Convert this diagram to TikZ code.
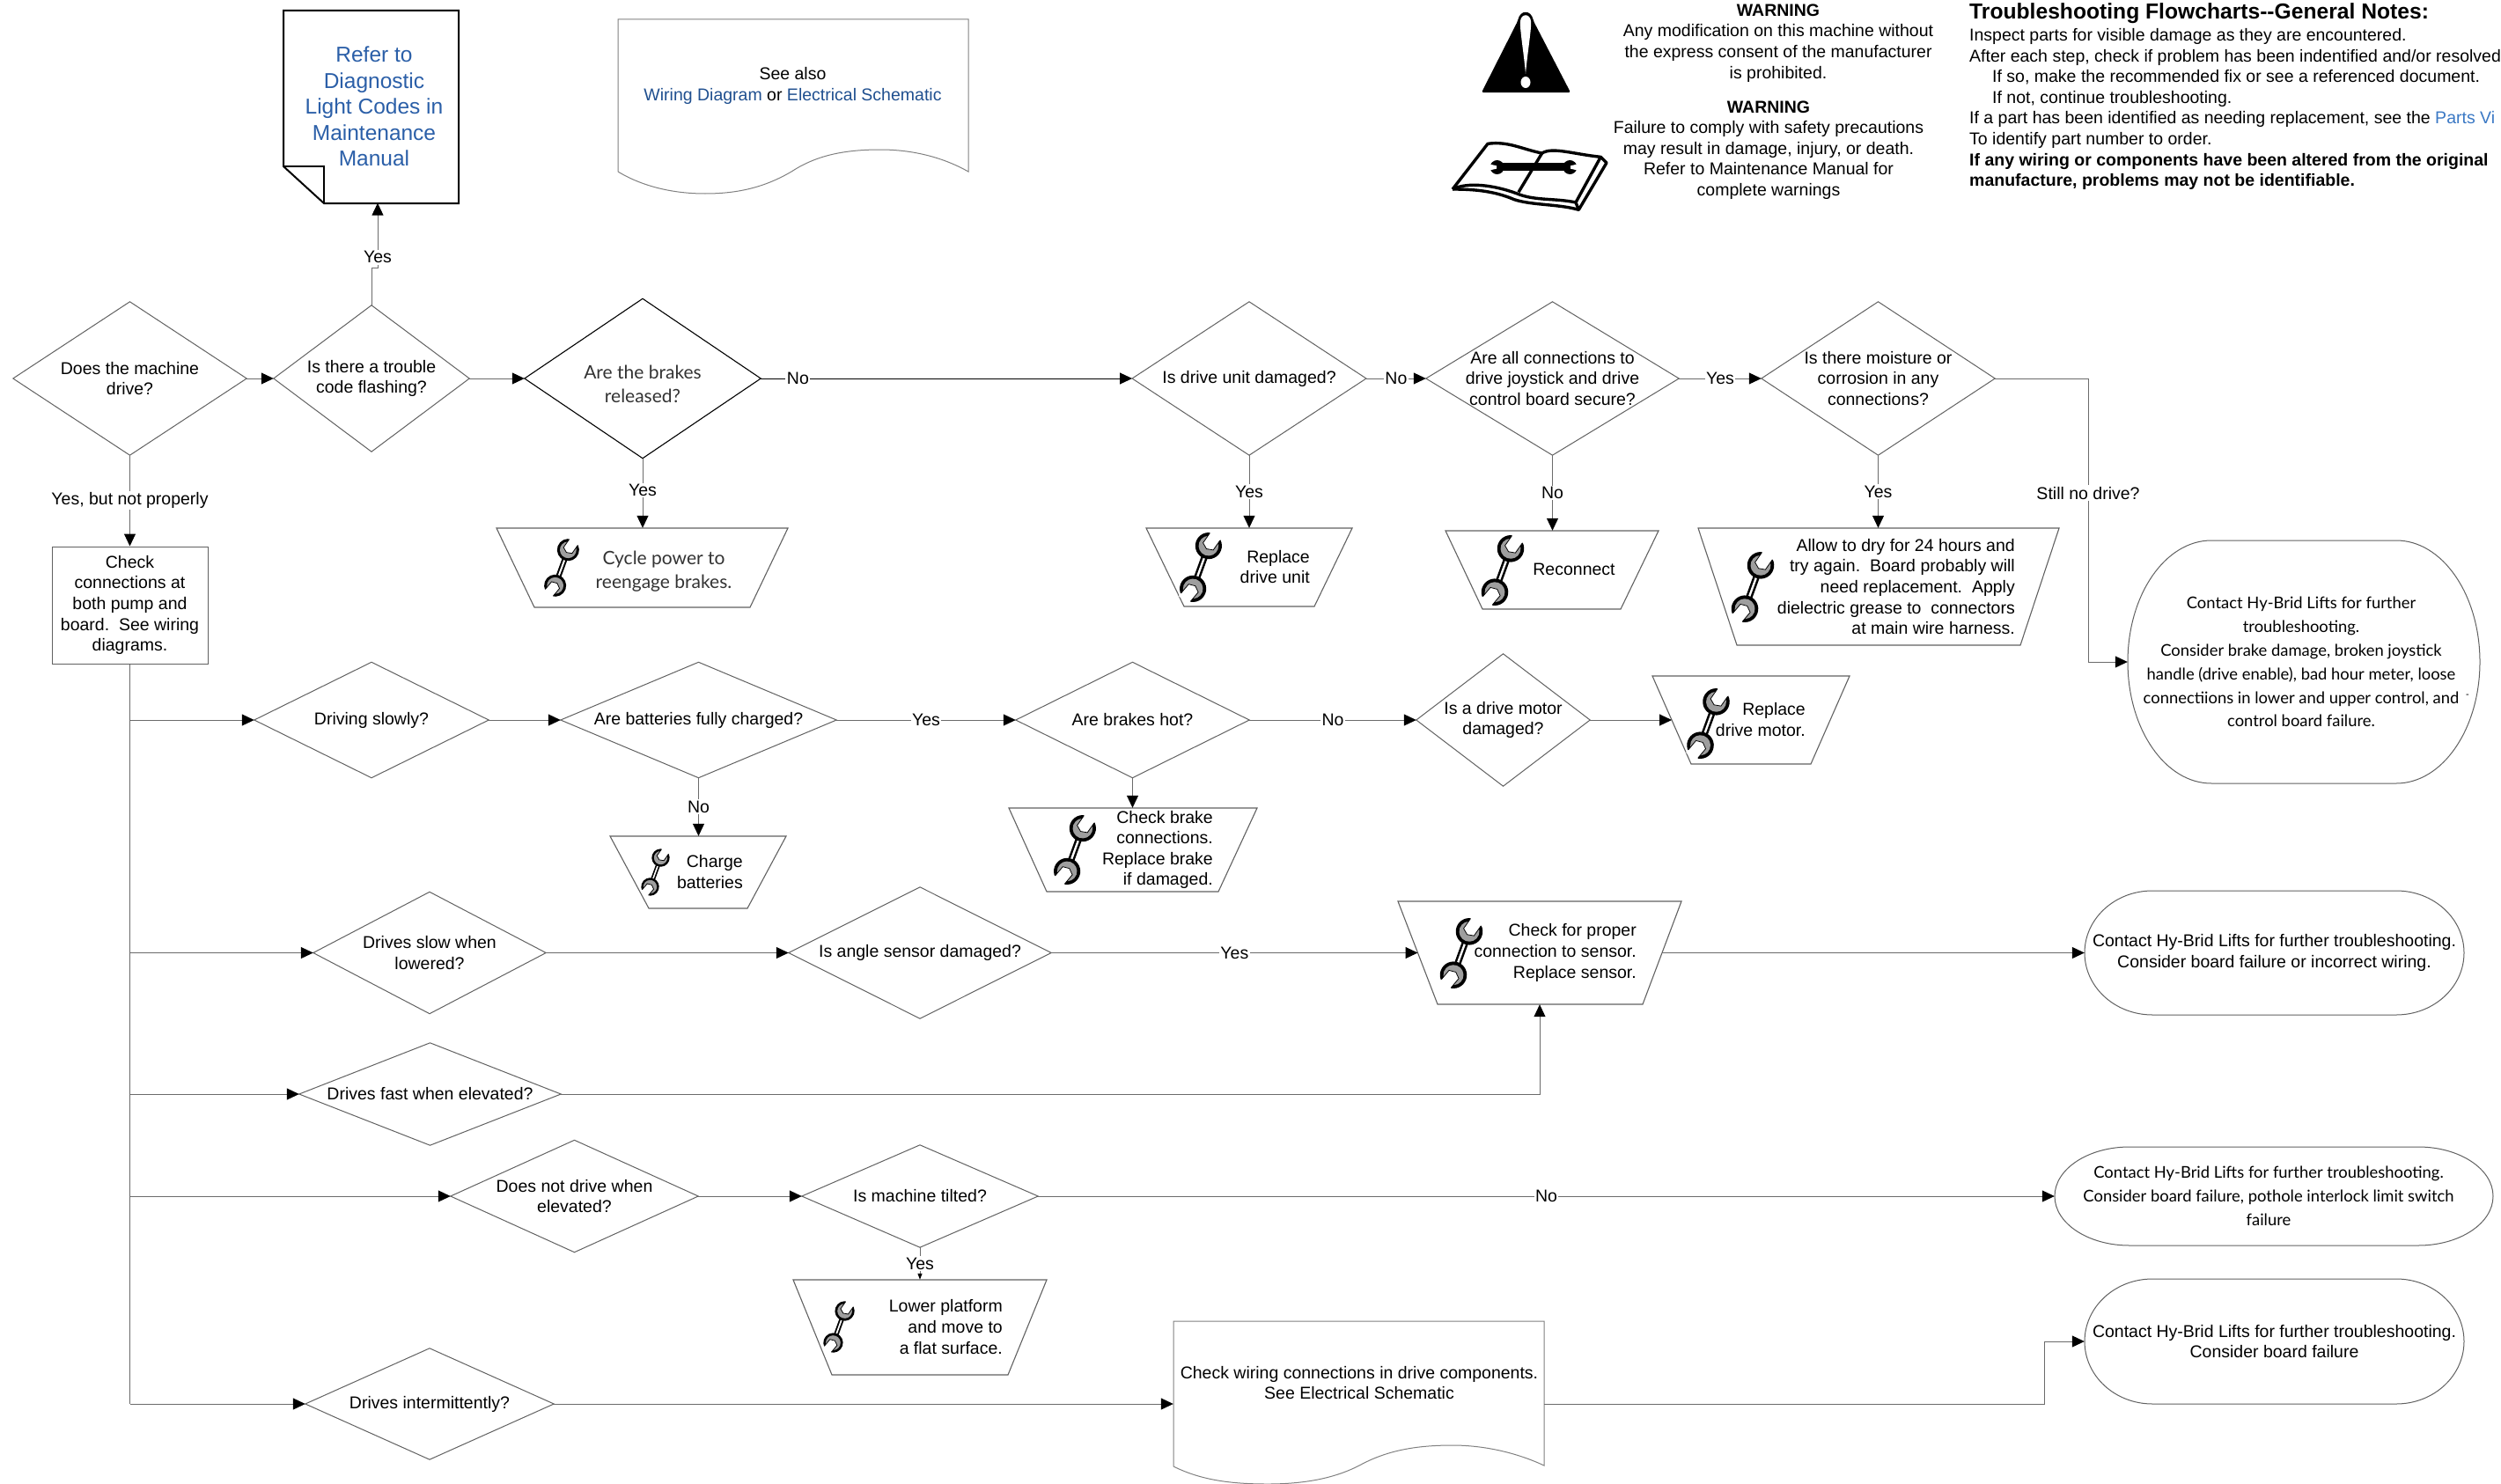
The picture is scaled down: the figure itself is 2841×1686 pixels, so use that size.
\documentclass[tikz,border=0pt]{standalone}
\usepackage{fontspec}
\setmainfont{Liberation Sans}
\newfontfamily\latofam{Lato}
\usetikzlibrary{arrows.meta,calc}
\newcommand\txtA{\fontsize{19.5}{23.6}\selectfont}
\newcommand\txtL{\latofam\fontsize{21}{27.2}\selectfont}
\newcommand\txtT{\latofam\fontsize{18.4}{26.9}\selectfont}
\newcommand\txtB{\fontsize{24.5}{29.5}\selectfont}
\definecolor{linkblue}{HTML}{2B5FA8}
\definecolor{linkdark}{HTML}{1F4F8F}
\definecolor{linkbright}{HTML}{3A78C4}
\tikzset{
  nt/.style={inner sep=0pt,font=\txtA,align=center},
  ltxt/.style={inner sep=0pt,font=\txtL,align=center,text=black!80},
  rtxt/.style={inner sep=0pt,font=\txtA,align=right,anchor=east},
  shapeonly/.style={inner sep=0pt},
  dline/.style={draw=black!62,line width=1pt},
  tline/.style={draw=black!62,line width=1.1pt,fill=white},
  docline/.style={draw=black!50,line width=1pt},
  conn/.style={draw=black!58,line width=1pt,-{Triangle[length=14pt,width=13pt,color=black]}},
  connsmall/.style={draw=black!58,line width=1pt,-{Triangle[length=7pt,width=5pt,color=black]}},
  plainconn/.style={draw=black!58,line width=1pt},
  lab/.style={fill=white,inner sep=1.5pt,font=\txtA},
}
% diamond: name, centre, width, height, text
\newcommand\dia[6][]{%
  \node[nt,minimum width=#4pt,minimum height=#5pt,#1] (#2) at (#3) {#6};
  \draw[dline] (#2.north)--(#2.east)--(#2.south)--(#2.west)--cycle;
}
% trapezoid: name, xTL, xBL, xBR, xTR, yT, yB
\newcommand\trapz[7]{%
  \draw[tline] (#2,#6)--(#5,#6)--(#4,#7)--(#3,#7)--cycle;
  \node[shapeonly,minimum width={(#5-#2)*1pt},minimum height={(#7-#6)*1pt}] (#1) at ({(#2+#5)/2},{(#6+#7)/2}) {};
  \coordinate (#1-l) at ({(#2+#3)/2},{(#6+#7)/2});
  \coordinate (#1-r) at ({(#4+#5)/2},{(#6+#7)/2});
}
% terminator: [text x offset], name, x1, x2, y1, y2, rx, text, font
\newcommand\termin[9][0]{%
  \draw[dline] ({#3+#7},#5)--({#4-#7},#5)
     arc[start angle=90,end angle=-90,x radius=#7pt,y radius={(#6-#5)/2*1pt}]
     --({#3+#7},#6)
     arc[start angle=270,end angle=90,x radius=#7pt,y radius={(#6-#5)/2*1pt}]--cycle;
  \node[inner sep=0pt,align=center,font=#9,minimum width={(#4-#3+2*(#1))*1pt},minimum height={(#6-#5)*1pt}] (#2) at ({(#3+#4)/2+(#1)},{(#5+#6)/2}) {#8};
}
% wrench: centre x, centre y, height
\newcommand\wrenchicon[3]{%
  \begin{scope}[shift={(#1,#2)},rotate=-20,scale={#3/92}]
    \fill[black] (-4.4,-31) rectangle (4.4,31);
    \fill[white] (-1.4,-15) rectangle (1.4,15);
    \fill[black] (0,-31) circle[radius=18];
    \fill[black!38] (0,-31) circle[radius=13.5];
    \begin{scope}[rotate around={-15:(0,-31)}]
      \fill[white] (-8.5,-51)--(-8.5,-30)--(0,-26)--(8.5,-30)--(8.5,-51)--cycle;
      \draw[line width=.8pt] (-8.5,-46)--(-8.5,-30)--(0,-26)--(8.5,-30)--(8.5,-46);
    \end{scope}
    \fill[black] (0,31) circle[radius=18];
    \fill[black!38] (0,31) circle[radius=13.5];
    \begin{scope}[rotate around={-20:(0,31)}]
      \fill[white] (-8.5,51)--(-8.5,30)--(0,26)--(8.5,30)--(8.5,51)--cycle;
      \draw[line width=.8pt] (-8.5,46)--(-8.5,30)--(0,26)--(8.5,30)--(8.5,46);
    \end{scope}
  \end{scope}
}
\begin{document}
\begin{tikzpicture}[x=1pt,y=-1pt]
\useasboundingbox (0,0) rectangle (2841,1686);

% --- top documents
\draw[black,line width=2pt,fill=white] (322,12)--(521,12)--(521,231)--(368,231)--(322,189)--cycle;
\draw[black,line width=1.8pt] (322,189)--(368,189)--(368,231);
\node[inner sep=0pt,align=center,font=\txtB,text=linkblue,minimum width=192pt,minimum height=219pt] (refer) at (425,121)
  {Refer to\\Diagnostic\\Light Codes in\\Maintenance\\Manual};

\draw[docline] (702,195)--(702,22)--(1100,22)--(1100,195)
  .. controls (1070,178) and (1035,170) .. (1000,170)
  .. controls (955,170) and (925,178) .. (899,195)
  .. controls (870,212) and (840,220) .. (801,220)
  .. controls (765,220) and (730,212) .. (702,195);
\node[nt] (seealso) at (900.5,97.5) {See also\\[0pt]\textcolor{linkdark}{Wiring Diagram} or \textcolor{linkdark}{Electrical Schematic}};

% --- warning triangle
\fill[black,rounded corners=2pt] (1683,105)--(1724,24) .. controls (1727,11) and (1739,11) .. (1742,24)--(1784,105)--cycle;
\fill[white] (1733,84) .. controls (1731,60) and (1726,32) .. (1727,24)
  .. controls (1728,15) and (1738,15) .. (1739,24)
  .. controls (1740,32) and (1735,60) .. (1733,84) -- cycle;
\fill[white] (1733,93.5) ellipse[x radius=5.5pt,y radius=6.5pt];

% --- book icon
\begin{scope}[shift={(1640,150)},x=0.3333pt,y=-0.3333pt,line width=3.4pt,line join=round]
  \draw (30,195)--(150,40) .. controls (220,30) and (270,60) .. (335,72);
  \draw (335,72) .. controls (370,50) and (440,75) .. (535,85)--(555,105)--(460,265)--(450,240)--(535,85);
  \draw (30,195) .. controls (80,170) and (170,180) .. (250,210) .. controls (310,235) and (380,225) .. (450,240);
  \draw (30,195) .. controls (100,195) and (170,200) .. (240,230) .. controls (300,250) and (390,245) .. (460,265);
  \draw (335,72)--(255,205);
  \fill[black] (190,106)--(420,106)--(420,132)--(190,132)--cycle;
  \fill[black] (182,120) circle[radius=24];
  \fill[black] (430,120) circle[radius=24];
  \fill[white] (150,108)--(180,115)--(180,125)--(150,132)--cycle;
  \fill[white] (462,108)--(432,115)--(432,125)--(462,132)--cycle;
\end{scope}

% --- warnings
\node[nt] (warn1) at (2020,49) {\textbf{WARNING}\\Any modification on this machine without\\the express consent of the manufacturer\\is prohibited.};
\node[nt] (warn2) at (2009,170.5) {\textbf{WARNING}\\Failure to comply with safety precautions\\may result in damage, injury, or death.\\Refer to Maintenance Manual for\\complete warnings};

% --- general notes
\node[inner sep=0pt,anchor=west,font=\fontsize{24.65}{29}\selectfont\bfseries] (notestitle) at (2237,15.5) {Troubleshooting Flowcharts-{}-General Notes:};
\node[inner sep=0pt,anchor=west,align=left,font=\txtA] (notes) at (2237,124) {Inspect parts for visible damage as they are encountered.\\
After each step, check if problem has been indentified and/or resolved\\
\hspace*{26pt}If so, make the recommended fix or see a referenced document.\\
\hspace*{26pt}If not, continue troubleshooting.\\
If a part has been identified as needing replacement, see the \textcolor{linkbright}{Parts Vi}\\
To identify part number to order.\\
\textbf{If any wiring or components have been altered from the original}\\
\textbf{manufacture, problems may not be identifiable.}};

% --- decisions, top row
\dia{d1}{147.5,430}{265}{174}{Does the machine\\drive?}
\dia{d2}{422,430}{222}{166}{Is there a trouble\\code flashing?}
\node[shapeonly,minimum width=268pt,minimum height=181pt] (d3) at (730,430) {};
\draw[draw=black,line width=1.1pt] (d3.north)--(d3.east)--(d3.south)--(d3.west)--cycle;
\node[ltxt] (d3txt) at (730,436) {Are the brakes\\released?};
\dia{d4}{1419,430}{265.5}{174}{Is drive unit damaged?}
\dia{d5}{1763.5,430}{287}{174}{Are all connections to\\drive joystick and drive\\control board secure?}
\dia{d6}{2133.5,430}{265}{174}{Is there moisture or\\corrosion in any\\connections?}

% --- check box
\node[nt,draw=black!62,line width=1pt,minimum width=177pt,minimum height=133pt] (box) at (147.5,687.5) {Check\\connections at\\both pump and\\board.\ \ See wiring\\diagrams.};

% --- decisions, lower rows
\dia{ds}{422,818}{266}{131}{Driving slowly?}
\dia{dc}{793.5,818}{313}{131}{Are batteries fully charged?}
\dia{dh}{1286.5,818}{265}{131}{Are brakes hot?}
\dia{dm}{1707.5,818}{197}{150}{Is a drive motor\\damaged?}
\dia{ls}{488,1082.5}{264}{138}{Drives slow when\\lowered?}
\dia{an}{1045,1082.5}{298}{149}{Is angle sensor damaged?}
\dia{fa}{488.5,1243}{297}{116}{Drives fast when elevated?}
\dia{el}{652.5,1359}{281}{127}{Does not drive when\\elevated?}
\dia{ti}{1045,1359}{268}{116}{Is machine tilted?}
\dia{it}{488,1595}{282}{126}{Drives intermittently?}

% --- action trapezoids
\trapz{tcy}{564}{607}{852}{895}{600}{690}
\node[ltxt] (tcytxt) at (754,649.5) {Cycle power to\\reengage brakes.};
\wrenchicon{638}{645}{64}
\trapz{tun}{1302}{1345}{1493}{1536}{600}{689}
\node[rtxt] (tuntxt) at (1488,644) {Replace\\drive unit};
\wrenchicon{1364}{644.5}{77}
\trapz{tre}{1642}{1684}{1841}{1884}{603}{692}
\node[nt] (tretxt) at (1788,647) {Reconnect};
\wrenchicon{1707}{648}{78}
\trapz{tal}{1929}{1973}{2295}{2339}{600}{733}
\node[rtxt] (taltxt) at (2289,666.5) {Allow to dry for 24 hours and\\try again.\ \ Board probably will\\need replacement.\ \ Apply\\dielectric grease to\ \ connectors\\at main wire harness.};
\wrenchicon{1991}{667}{78}
\trapz{tmo}{1877}{1921}{2057}{2101}{768}{868}
\node[rtxt] (tmotxt) at (2051,817.5) {Replace\\drive motor.};
\wrenchicon{1940.5}{822}{78}
\trapz{tch}{693}{737}{849}{893}{950}{1032}
\node[rtxt] (tchtxt) at (844,990.5) {Charge\\batteries};
\wrenchicon{744.5}{991}{52}
\trapz{tbr}{1146}{1189}{1384}{1428}{918}{1013}
\node[rtxt] (tbrtxt) at (1378,965.5) {Check brake\\connections.\\Replace brake\\if damaged.};
\wrenchicon{1221}{965.5}{77}
\trapz{tse}{1588}{1633}{1866}{1910}{1024}{1141}
\node[rtxt] (tsetxt) at (1859,1082.5) {Check for proper\\connection to sensor.\\Replace sensor.};
\wrenchicon{1660}{1083}{78}
\trapz{tlo}{901}{945}{1145}{1189}{1454}{1562}
\node[rtxt] (tlotxt) at (1139,1507.5) {Lower platform\\and move to\\a flat surface.};
\wrenchicon{953}{1507.5}{57}

% --- wiring document
\draw[docline] (1333,1666)--(1333,1501)--(1754,1501)--(1754,1665)
  .. controls (1722,1650) and (1685,1642) .. (1650,1642)
  .. controls (1608,1642) and (1575,1648) .. (1544,1665)
  .. controls (1515,1680) and (1480,1686) .. (1440,1686)
  .. controls (1400,1686) and (1365,1682) .. (1333,1666);
\node[shapeonly,minimum width=421pt,minimum height=165pt] (wdoc) at (1543.5,1583.5) {};
\node[nt] (wdoctxt) at (1544,1571) {Check wiring connections in drive components.\\See Electrical Schematic};

% --- terminators
\termin[-3]{t0}{2417}{2817}{614}{890}{95}{Contact Hy-Brid Lifts for further\\troubleshooting.\\Consider brake damage, broken joystick\\handle (drive enable), bad hour meter, loose\\connectiions in lower and upper control, and\\control board failure.}{\txtT}
\node[inner sep=0pt,font=\fontsize{11}{12}\selectfont] (t0dash) at (2803,791) {-};
\termin{t1}{2368}{2799}{1012}{1153}{77}{Contact Hy-Brid Lifts for further troubleshooting.\\Consider board failure or incorrect wiring.}{\txtA}
\termin[-6]{t2}{2334}{2832}{1303}{1415}{85}{Contact Hy-Brid Lifts for further troubleshooting.\\Consider board failure, pothole interlock limit switch\\failure}{\txtT}
\termin{t3}{2368}{2799}{1453}{1595}{77}{Contact Hy-Brid Lifts for further troubleshooting.\\Consider board failure}{\txtA}

% --- connectors, top row
\draw[conn] (d1.east)--(d2.west);
\draw[conn] (d2.east)--(d3.west);
\coordinate (yj1) at (422,304);
\coordinate (yj2) at (429,304);
\draw[conn] (d2.north)--(yj1)--(yj2)--node[lab,pos=0.16]{Yes} (yj2 |- refer.south);
\draw[conn,draw=black] (d3.east)--node[lab,pos=0.1]{No} (d4.west);
\draw[conn] (d4.east)--node[lab]{No} (d5.west);
\draw[conn] (d5.east)--node[lab]{Yes} (d6.west);
\coordinate (still) at (2372,430);
\draw[conn] (d6.east)--(still)--node[lab,pos=0.404]{Still no drive?} (still |- t0.west)--(t0.west);
\draw[conn] (d1.south)--node[lab]{Yes, but not properly} (d1.south |- box.north);
\draw[conn] (d3.south)--node[lab,pos=0.46]{Yes} (d3.south |- tcy.north);
\draw[conn] (d4.south)--node[lab]{Yes} (d4.south |- tun.north);
\draw[conn] (d5.south)--node[lab]{No} (d5.south |- tre.north);
\draw[conn] (d6.south)--node[lab]{Yes} (d6.south |- tal.north);

% --- trunk and branches
\draw[plainconn] (box.south)--(box.south |- it.west);
\draw[conn] (box.south |- ds.west)--(ds.west);
\draw[conn] (box.south |- ls.west)--(ls.west);
\draw[conn] (box.south |- fa.west)--(fa.west);
\draw[conn] (box.south |- el.west)--(el.west);
\draw[conn] (box.south |- it.west)--(it.west);

% --- driving slowly row
\draw[conn] (ds.east)--(dc.west);
\draw[conn] (dc.east)--node[lab]{Yes} (dh.west);
\draw[conn] (dh.east)--node[lab]{No} (dm.west);
\draw[conn] (dm.east)--(tmo-l);
\draw[conn] (dc.south)--node[lab]{No} (dc.south |- tch.north);
\draw[conn] (dh.south)--(dh.south |- tbr.north);

% --- sensor rows
\draw[conn] (ls.east)--(an.west);
\draw[conn] (an.east)--node[lab]{Yes} (tse-l);
\draw[conn] (tse-r)--(tse-r -| t1.west);
\draw[conn] (fa.east)-|(tse.south);

% --- tilt row
\draw[conn] (el.east)--(ti.west);
\draw[conn] (ti.east)--node[lab]{No} (t2.west);
\draw[connsmall] (ti.south)--node[lab]{Yes} (ti.south |- tlo.north);

% --- intermittent row
\draw[conn] (it.east)--(it.east -| wdoc.west);
\coordinate (jog) at (2322,1595);
\draw[conn] (wdoc.east |- it.east)--(jog)--(jog |- t3.west)--(t3.west);
\end{tikzpicture}
\end{document}
